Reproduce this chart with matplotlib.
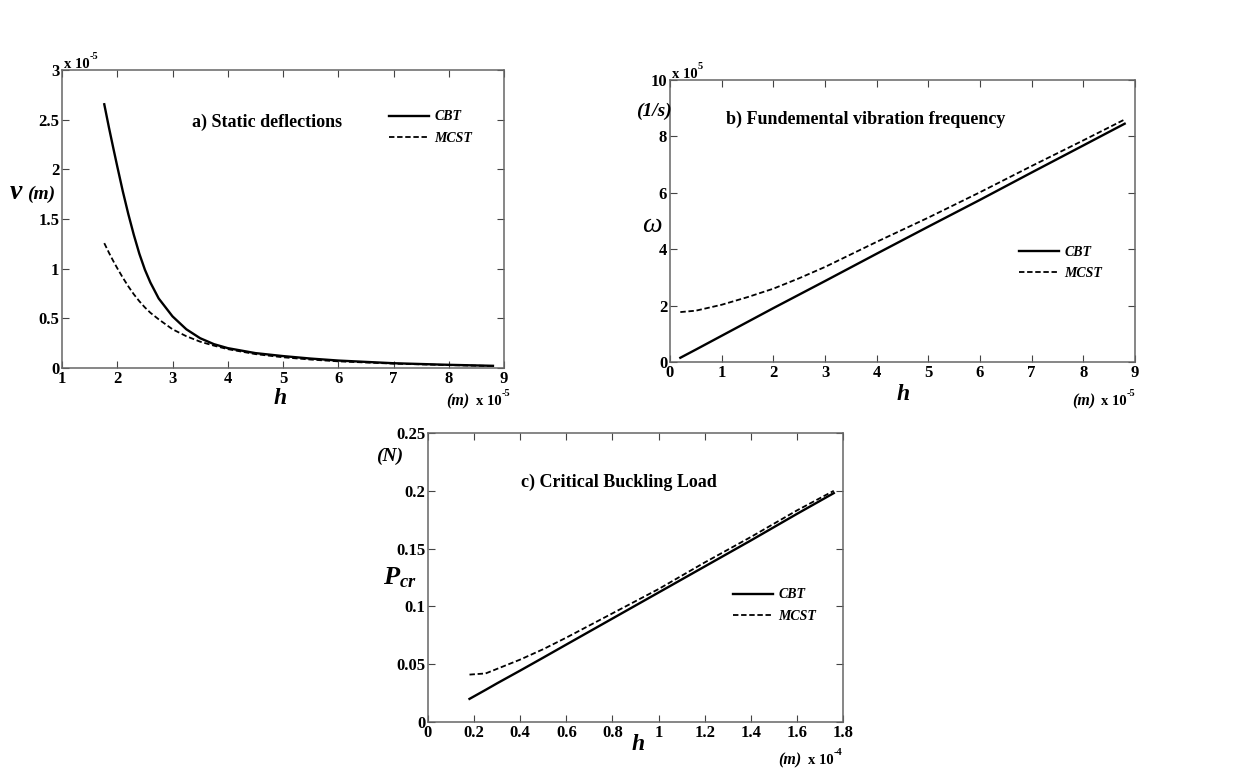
import numpy as np
import matplotlib
matplotlib.use("Agg")
import matplotlib.pyplot as plt
from matplotlib.ticker import FuncFormatter

# ---- data (h in units of the axis multiplier) ----
# a) static deflections, h x 1e-5 m, v x 1e-5 m
h_a = [1.765, 1.85, 1.93, 2.0, 2.1, 2.2, 2.3, 2.4, 2.5, 2.6, 2.75, 3.0, 3.25, 3.5, 3.75,
       4.0, 4.5, 5.0, 5.5, 6.0, 7.0, 8.0, 8.8]
v_cbt = [2.655, 2.42, 2.21, 2.03, 1.78, 1.55, 1.34, 1.15, 0.99, 0.86, 0.70, 0.52, 0.39, 0.30, 0.24,
         0.20, 0.15, 0.12, 0.095, 0.075, 0.048, 0.032, 0.022]
v_mcst = [1.257, 1.16, 1.075, 1.005, 0.91, 0.822, 0.742, 0.672, 0.61, 0.556, 0.49, 0.39, 0.32, 0.265, 0.225,
          0.19, 0.14, 0.108, 0.085, 0.067, 0.044, 0.029, 0.02]

# b) fundamental vibration frequency, h x 1e-5 m, omega x 1e5 1/s
h_b = [0.2, 0.5, 1.0, 1.5, 2.0, 2.5, 3.0, 4.0, 5.0, 6.0, 7.0, 8.0, 8.8]
w_cbt = [0.15, 0.44, 0.93, 1.42, 1.91, 2.39, 2.87, 3.84, 4.8, 5.75, 6.72, 7.68, 8.45]
w_mcst = [1.77, 1.82, 2.03, 2.3, 2.6, 2.97, 3.37, 4.26, 5.12, 6.02, 6.95, 7.86, 8.6]

# c) critical buckling load, h x 1e-4 m, P in N
h_c = [0.18, 0.25, 0.3, 0.4, 0.5, 0.6, 0.8, 1.0, 1.2, 1.4, 1.6, 1.76]
p_cbt = [0.02, 0.0278, 0.0335, 0.0445, 0.0557, 0.067, 0.0895, 0.112, 0.1345, 0.157, 0.18, 0.198]
p_mcst = [0.041, 0.042, 0.046, 0.054, 0.063, 0.073, 0.094, 0.115, 0.138, 0.16, 0.183, 0.2]

plt.rcParams["font.family"] = "Liberation Serif"
plt.rcParams["font.weight"] = "bold"
plt.rcParams["mathtext.fontset"] = "custom"
plt.rcParams["mathtext.it"] = "Liberation Serif:bold:italic"
plt.rcParams["mathtext.rm"] = "Liberation Serif:bold"

W, H = 1255, 771
fig = plt.figure(figsize=(W / 100, H / 100), dpi=100)


def px_axes(left, top, right, bottom):
    return fig.add_axes([left / W, 1 - bottom / H, (right - left) / W, (bottom - top) / H])


def ftext(x, y, s, **kw):
    fig.text(x / W, 1 - y / H, s, **kw)


def style(ax, xlim, ylim, xticks, yticks):
    ax.set_xlim(*xlim)
    ax.set_ylim(*ylim)
    ax.set_xticks(xticks)
    ax.set_yticks(yticks)
    fmt = FuncFormatter(lambda v, p: "%g" % round(v, 6))
    ax.xaxis.set_major_formatter(fmt)
    ax.yaxis.set_major_formatter(fmt)
    ax.tick_params(direction="in", top=True, right=True, length=5, width=0.8,
                   labelsize=12, pad=2, colors="#444444", labelcolor="black")
    for lbl in ax.get_xticklabels() + ax.get_yticklabels():
        lbl.set_fontweight("bold")
    for s in ax.spines.values():
        s.set_color("#666666")
        s.set_linewidth(1.1)


def add_legend(ax, x, y):
    leg = ax.legend(loc="upper left", bbox_to_anchor=(x / W, 1 - y / H),
                    bbox_transform=fig.transFigure, frameon=False,
                    handlelength=2.9, handletextpad=0.4, labelspacing=0.6,
                    prop={"family": "Liberation Serif", "style": "italic",
                          "weight": "bold", "size": 10})
    return leg


def mult_text(x, y, exp):
    # "x 10^exp" multiplier text, y is the baseline
    ftext(x, y, "x 10", fontsize=10.5, fontweight="bold", va="baseline")
    ftext(x + 26, y - 9, exp, fontsize=7.5, fontweight="bold", va="baseline")


# ---------- a) ----------
ax1 = px_axes(62, 70, 504, 368)
ax1.plot(h_a, v_cbt, color="black", lw=1.7, label="CBT")
ax1.plot(h_a, v_mcst, color="black", lw=1.3, ls=(0, (3, 1.5)), label="MCST")
style(ax1, (1, 9), (0, 3), range(1, 10), np.arange(0, 3.01, 0.5))
add_legend(ax1, 376, 98)
ax1.text(0.465, 0.825, "a) Static deflections", transform=ax1.transAxes,
         ha="center", va="center", fontsize=13, fontweight="bold")
mult_text(64, 68, "-5")
ftext(10, 199, "v", fontsize=20, fontweight="bold", style="italic", va="baseline")
ftext(27, 199, "(m)", fontsize=14, fontweight="bold", style="italic", va="baseline")
ftext(280, 398, "h", fontsize=17, fontweight="bold", style="italic", ha="center", va="center")
ftext(446, 405, "(m)", fontsize=11.5, fontweight="bold", style="italic", va="baseline")
mult_text(476, 405, "-5")

# ---------- b) ----------
ax2 = px_axes(670, 80, 1135, 362)
ax2.plot(h_b, w_cbt, color="black", lw=1.7, label="CBT")
ax2.plot(h_b, w_mcst, color="black", lw=1.3, ls=(0, (3, 1.5)), label="MCST")
style(ax2, (0, 9), (0, 10), range(0, 10), range(0, 11, 2))
add_legend(ax2, 1006, 233)
ax2.text(0.42, 0.86, "b) Fundemental vibration frequency", transform=ax2.transAxes,
         ha="center", va="center", fontsize=13, fontweight="bold")
mult_text(672, 78, "5")
ftext(636, 116, "(1/s)", fontsize=14, fontweight="bold", style="italic", va="baseline")
ftext(652, 226, "\u03c9", fontsize=20, fontweight="normal", style="italic",
      ha="center", va="center")
ftext(903, 395, "h", fontsize=17, fontweight="bold", style="italic", ha="center", va="center")
ftext(1072, 405, "(m)", fontsize=11.5, fontweight="bold", style="italic", va="baseline")
mult_text(1101, 405, "-5")

# ---------- c) ----------
ax3 = px_axes(428, 433, 843, 722)
ax3.plot(h_c, p_cbt, color="black", lw=1.7, label="CBT")
ax3.plot(h_c, p_mcst, color="black", lw=1.3, ls=(0, (3, 1.5)), label="MCST")
style(ax3, (0, 1.8), (0, 0.25), np.arange(0, 1.81, 0.2), np.arange(0, 0.251, 0.05))
add_legend(ax3, 720, 576)
ax3.text(0.46, 0.83, "c) Critical Buckling Load", transform=ax3.transAxes,
         ha="center", va="center", fontsize=13, fontweight="bold")
ftext(376, 461, "(N)", fontsize=14, fontweight="bold", style="italic", va="baseline")
ftext(383, 584, r"$P_{cr}$", fontsize=19, va="baseline")
ftext(638, 744, "h", fontsize=17, fontweight="bold", style="italic", ha="center", va="center")
ftext(778, 764, "(m)", fontsize=11.5, fontweight="bold", style="italic", va="baseline")
mult_text(808, 764, "-4")

fig.savefig("out.png", dpi=100, facecolor="white")
